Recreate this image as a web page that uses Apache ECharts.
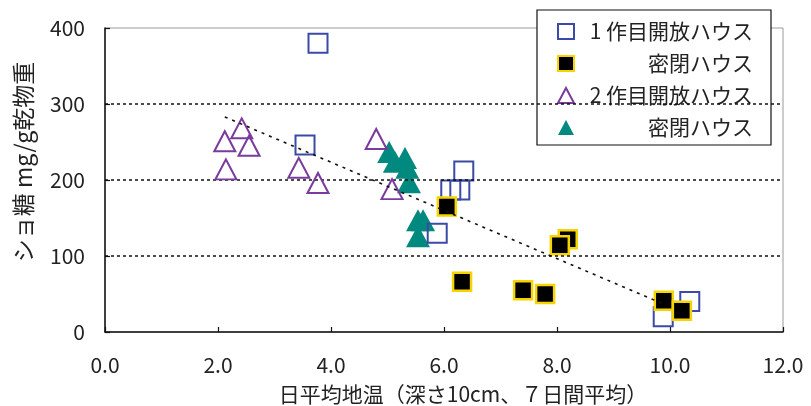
<!DOCTYPE html>
<html>
<head>
<meta charset="utf-8">
<script src="https://cdn.jsdelivr.net/npm/echarts@6/dist/echarts.min.js"></script>
<style>
html,body{margin:0;padding:0;background:#fff;}
#chart{width:811px;height:406px;}
</style>
</head>
<body>
<div id="chart"></div>
<script>
// 1作目 開放ハウス [地温, ショ糖]
var open1 = [[3.77, 380], [3.54, 246], [6.35, 212], [6.12, 187], [6.28, 187], [5.88, 130], [9.88, 20], [10.35, 40]];
// 1作目 密閉ハウス
var closed1 = [[6.05, 165], [6.32, 66], [7.40, 55], [7.79, 50], [8.19, 122], [8.05, 114], [9.89, 41], [10.21, 28]];
// 2作目 開放ハウス
var open2 = [[2.42, 268], [2.12, 251], [2.55, 245], [2.14, 214], [3.43, 216], [3.77, 196], [4.80, 254], [5.08, 188]];
// 2作目 密閉ハウス
var closed2 = [[5.03, 237], [5.13, 224], [5.31, 229], [5.35, 216], [5.38, 197], [5.54, 147], [5.63, 147], [5.54, 126]];
// 近似直線 (端点)
var trend = [[2.12, 283], [9.91, 36]];
// 補助線
var gridValues = [100, 200, 300];

var seriesNames = ['open1', 'closed1', 'open2', 'closed2'];
var legendLabels = {
  open1: '1 作目開放ハウス',
  closed1: '密閉ハウス',
  open2: '2 作目開放ハウス',
  closed2: '密閉ハウス'
};
var xTicks = {min: 0, max: 12, interval: 2};
var yTicks = {min: 0, max: 400, interval: 100};
var xName = '日平均地温（深さ10cm、７日間平均）';
var yName = 'ショ糖 mg/g乾物重';

var FONT = '"Noto Sans CJK JP", "Noto Sans", sans-serif';
var chart = echarts.init(document.getElementById('chart'), null, {renderer: 'canvas'});
chart.setOption({
  animation: false,
  backgroundColor: '#fff',
  textStyle: {fontFamily: FONT},
  grid: {left: 105, right: 28, top: 28, bottom: 74, containLabel: false, outerBoundsMode: 'none',
    show: true, borderColor: '#9a9a9a', borderWidth: 1, backgroundColor: 'transparent'},
  legend: {
    orient: 'vertical',
    left: 537, top: 10,
    data: seriesNames,
    backgroundColor: '#fff',
    borderColor: '#111', borderWidth: 1.2,
    padding: [11, 18, 7, 20],
    itemGap: 11, itemWidth: 16, itemHeight: 15, itemTextGap: 5,
    formatter: function (n) { return '{t|' + legendLabels[n] + '}'; },
    textStyle: {
      fontFamily: FONT, color: '#222',
      rich: {t: {width: 174, align: 'right', fontSize: 21, fontFamily: FONT, color: '#222'}}
    }
  },
  xAxis: {
    type: 'value', min: xTicks.min, max: xTicks.max, interval: xTicks.interval,
    name: xName, nameLocation: 'middle', nameGap: 52,
    nameTextStyle: {fontSize: 21, color: '#222', fontFamily: FONT, padding: [0, 0, 0, 38]},
    axisLine: {show: true, onZero: false, lineStyle: {color: '#111', width: 1.5}},
    axisTick: {show: true, inside: true, length: 5, lineStyle: {color: '#111', width: 1.2}},
    axisLabel: {fontSize: 21, color: '#222', margin: 23, formatter: function (v) { return v.toFixed(1); }},
    splitLine: {show: false}
  },
  yAxis: {
    type: 'value', min: yTicks.min, max: yTicks.max, interval: yTicks.interval,
    name: yName, nameLocation: 'middle', nameGap: 70, nameRotate: 90,
    nameTextStyle: {fontSize: 23, color: '#222', fontFamily: FONT, padding: [0, 0, 0, 36]},
    axisLine: {show: true, lineStyle: {color: '#111', width: 1.5}},
    axisTick: {show: true, inside: true, length: 5, lineStyle: {color: '#111', width: 1.2}},
    axisLabel: {fontSize: 21, color: '#222', margin: 20},
    splitLine: {show: false}
  },
  series: [
    {
      name: 'closed2', type: 'scatter', data: closed2, z: 2,
      symbol: 'triangle', symbolSize: [24, 22],
      itemStyle: {color: '#00897e', borderWidth: 0, opacity: 1}
    },
    {
      name: 'open1', type: 'scatter', data: open1, z: 3,
      symbol: 'rect', symbolSize: 19,
      itemStyle: {color: 'rgba(255,255,255,0)', borderColor: '#3a4aa6', borderWidth: 2, opacity: 1}
    },
    {
      name: 'closed1', type: 'scatter', data: closed1, z: 4,
      symbol: 'rect', symbolSize: 18,
      itemStyle: {color: '#000', borderColor: '#f5d400', borderWidth: 2.5, opacity: 1}
    },
    {
      name: 'open2', type: 'scatter', data: open2, z: 5,
      symbol: 'triangle', symbolSize: [21, 20],
      itemStyle: {color: 'rgba(255,255,255,0)', borderColor: '#7a3b9e', borderWidth: 2, opacity: 1}
    },
    {
      name: 'trend', type: 'line', data: trend, z: 6,
      symbol: 'none', silent: true,
      lineStyle: {color: '#111', width: 1.6, type: [3, 5]},
      markLine: {
        silent: true, symbol: 'none', label: {show: false},
        lineStyle: {color: '#111', width: 1.5, type: [3, 3]},
        data: gridValues.map(function (v) { return {yAxis: v}; })
      }
    }
  ]
});
</script>
</body>
</html>
